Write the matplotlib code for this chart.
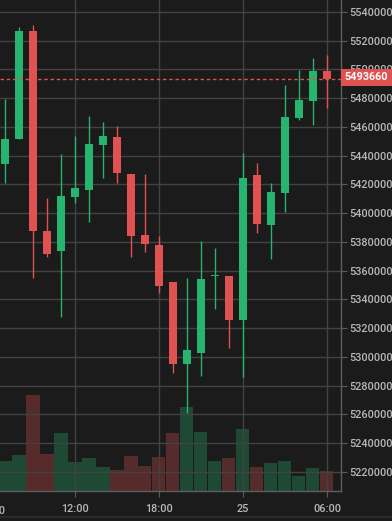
import matplotlib
matplotlib.use("Agg")
import matplotlib.pyplot as plt
from matplotlib.patches import Rectangle
from matplotlib.lines import Line2D
import matplotlib.transforms as mtransforms

plt.rcParams['font.family'] = ['Roboto', 'DejaVu Sans']

# hourly candles, 07:00 (24th) .. 06:00 (25th)
hours = ["07:00", "08:00", "09:00", "10:00", "11:00", "12:00", "13:00", "14:00",
         "15:00", "16:00", "17:00", "18:00", "19:00", "20:00", "21:00", "22:00",
         "23:00", "00:00", "01:00", "02:00", "03:00", "04:00", "05:00", "06:00"]
opens = [5434400, 5451600, 5526800, 5387800, 5373900, 5411500, 5416300, 5447600,
         5453200, 5427300, 5384800, 5377800, 5351900, 5295200, 5302900, 5356300,
         5356300, 5325600, 5426500, 5392000, 5413800, 5466400, 5478300, 5498900]
closes = [5451600, 5526800, 5387800, 5371600, 5411900, 5417500, 5448100, 5453700,
          5428200, 5384300, 5378300, 5349500, 5294800, 5304800, 5354000, 5356500,
          5325600, 5424500, 5392700, 5414500, 5466900, 5478800, 5498900, 5493660]
highs = [5479500, 5529600, 5531000, 5410500, 5441000, 5453700, 5467600, 5463400,
         5460700, 5427300, 5427500, 5384100, 5351900, 5354700, 5380600, 5375500,
         5356300, 5441700, 5434900, 5421000, 5489200, 5499600, 5508000, 5510100]
lows = [5421200, 5451600, 5355100, 5369700, 5327900, 5407300, 5394100, 5424700,
        5421200, 5369700, 5373200, 5344200, 5289000, 5260700, 5286700, 5333500,
        5306400, 5286200, 5386400, 5367900, 5401000, 5464800, 5461400, 5473400]
volumes = [30, 36, 96, 37, 58, 29, 33, 24, 21, 35, 25, 34, 58, 84, 59, 30,
           33, 62, 24, 28, 30, 15, 23, 20]
last_price = 5493660
price_ticks = [5220000, 5240000, 5260000, 5280000, 5300000, 5320000, 5340000,
               5360000, 5380000, 5400000, 5420000, 5440000, 5460000, 5480000,
               5500000, 5520000, 5540000]
x_tick_pos = [-1, 5, 11, 17, 23]
x_tick_labels = ["06:00", "12:00", "18:00", "25", "06:00"]

BG = "#1b1b1b"
GRID = "#424242"
GREEN = "#26b46f"
RED = "#e05252"
TXT = "#b8b8b8"

W, H = 392, 521
fig = plt.figure(figsize=(W / 100, H / 100), dpi=100, facecolor=BG)
ax_w = 340.7 / W
ax_h = 491 / H
ax = fig.add_axes([0, 1 - ax_h, ax_w, ax_h], facecolor=BG)
axv = ax.twinx()
axv.set_zorder(0)
ax.set_zorder(1)
ax.patch.set_visible(False)
axv.patch.set_visible(True)
axv.patch.set_facecolor(BG)

n = len(opens)
xs = list(range(n))
ax.set_xlim(-0.357, 23.98)
ax.set_ylim(5206616, 5548352)
axv.set_ylim(0, max(volumes) * 491 / 96)

# grid
for p in price_ticks:
    ax.axhline(p, color=GRID, lw=1, zorder=0)
for xp in x_tick_pos:
    ax.axvline(xp, color=GRID, lw=1, zorder=0)

# volume bars
for i in xs:
    c = GREEN if closes[i] >= opens[i] else RED
    axv.bar(i, volumes[i], width=0.93, color=c, alpha=0.3, lw=0)
axv.set_yticks([])

# candles
bw = 0.64
for i in xs:
    o, c, h, l = opens[i], closes[i], highs[i], lows[i]
    col = GREEN if c >= o else RED
    ax.plot([i, i], [l, h], color=col, lw=1, zorder=3, solid_capstyle='butt')
    lo, hi = min(o, c), max(o, c)
    hgt = max(hi - lo, 700)
    ax.add_patch(Rectangle((i - bw / 2, lo), bw, hgt, facecolor=col,
                           edgecolor='none', zorder=4))

# last price line
ax.axhline(last_price, color=RED, lw=1.0, ls=(0, (2.5, 2)), zorder=5)

# axes styling
for s in ['top', 'left']:
    ax.spines[s].set_visible(False)
    axv.spines[s].set_visible(False)
for s in ['right', 'bottom']:
    ax.spines[s].set_color("#5e5e5e")
    ax.spines[s].set_linewidth(1)
axv.spines['right'].set_visible(False)
axv.spines['bottom'].set_visible(False)

ax.yaxis.tick_right()
axv.yaxis.set_visible(False)
ax.set_yticks(price_ticks)
ax.set_yticklabels([str(p) for p in price_ticks])
ax.tick_params(axis='y', which='both', length=4, color="#5e5e5e",
               labelcolor=TXT, labelsize=7.8, pad=2, right=True, left=False)
ax.set_xticks(x_tick_pos[1:])
ax.set_xticklabels(x_tick_labels[1:])
ax.tick_params(axis='x', length=4, color="#5e5e5e", labelcolor=TXT,
               labelsize=7.8, pad=5)
for lbl in ax.get_yticklabels():
    lbl.set_fontweight('medium')
for lbl in ax.get_xticklabels():
    lbl.set_fontweight('medium')

# partially visible first label
trans = mtransforms.blended_transform_factory(ax.transData, ax.transAxes)
ax.text(x_tick_pos[0], -0.0305, x_tick_labels[0], transform=trans, ha='center',
        va='top', color=TXT, fontsize=7.8, fontweight='medium', clip_on=False)

# last price tag
ypix_top = 69
ypix_bot = 86
tag = Rectangle((341 / W, 1 - ypix_bot / H), (W - 341) / W, (ypix_bot - ypix_top) / H,
                transform=fig.transFigure, facecolor=RED, edgecolor='none', zorder=10)
fig.patches.append(tag)
fig.text(366 / W, 1 - 77.5 / H, str(last_price), color='white', fontsize=7.8,
         fontweight='bold', ha='center', va='center', zorder=11)

# bottom separator
fig.add_artist(Line2D([0, 1], [1 - 516.5 / H, 1 - 516.5 / H], transform=fig.transFigure,
                      color="#2e2e38", lw=1.2))

fig.savefig("out.png", dpi=100, facecolor=BG)
